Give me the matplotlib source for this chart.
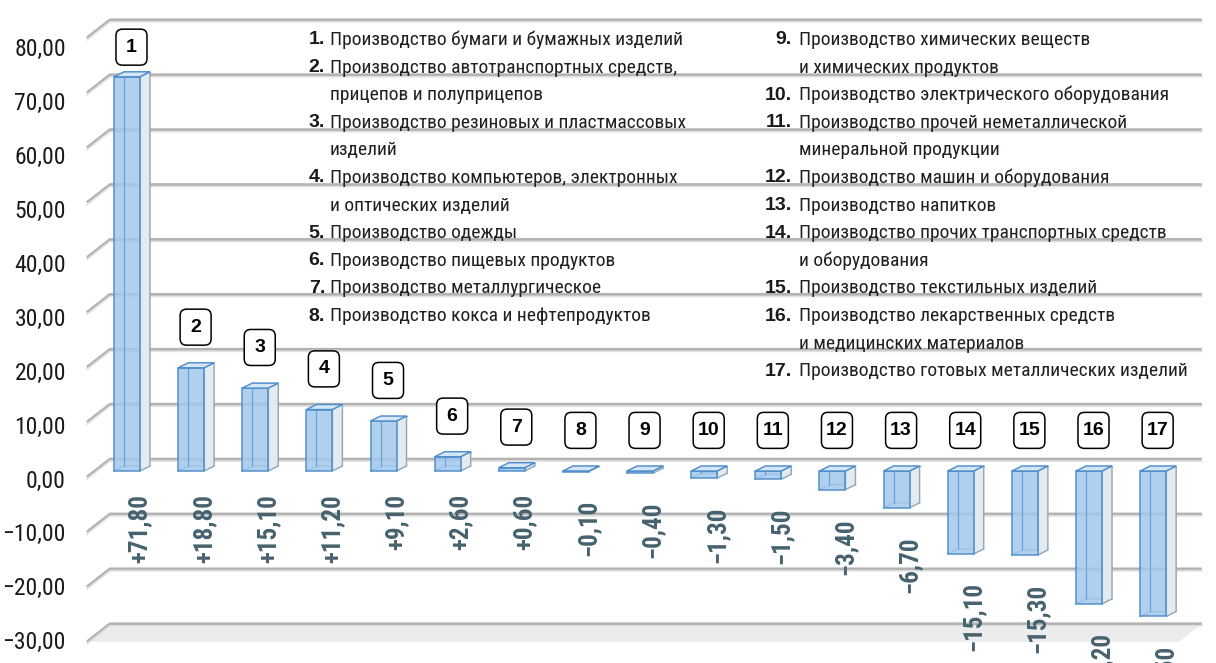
import matplotlib
matplotlib.use('Agg')
import matplotlib.pyplot as plt
from matplotlib import font_manager
from matplotlib.patches import Polygon, FancyBboxPatch

# Данные: изменение по видам производства
nums = list(range(1, 18))
values = [71.8, 18.8, 15.1, 11.2, 9.1, 2.6, 0.6, -0.1, -0.4, -1.3, -1.5,
          -3.4, -6.7, -15.1, -15.3, -24.2, -26.5]
names = [
    'Производство бумаги и бумажных изделий',
    'Производство автотранспортных средств,\nприцепов и полуприцепов',
    'Производство резиновых и пластмассовых\nизделий',
    'Производство компьютеров, электронных\nи оптических изделий',
    'Производство одежды',
    'Производство пищевых продуктов',
    'Производство металлургическое',
    'Производство кокса и нефтепродуктов',
    'Производство химических веществ\nи химических продуктов',
    'Производство электрического оборудования',
    'Производство прочей неметаллической\nминеральной продукции',
    'Производство машин и оборудования',
    'Производство напитков',
    'Производство прочих транспортных средств\nи оборудования',
    'Производство текстильных изделий',
    'Производство лекарственных средств\nи медицинских материалов',
    'Производство готовых металлических изделий',
]
yticks = [80, 70, 60, 50, 40, 30, 20, 10, 0, -10, -20, -30]

available = {f.name for f in font_manager.fontManager.ttflist}
fam = 'DejaVu Sans'
for cand in ['Liberation Sans Narrow', 'Roboto Condensed', 'Liberation Sans']:
    if cand in available:
        fam = cand
        break
plt.rcParams['font.family'] = [fam, 'DejaVu Sans']
wide = ['Liberation Sans', 'DejaVu Sans']

fig = plt.figure(figsize=(12.16, 6.63), dpi=100)
ax = fig.add_axes([0, 0, 1, 1])
ax.set_xlim(-1.98, 16.98)
ax.set_ylim(-34.97, 85.79)
ax.axis('off')

px_x = 1 / 64.125   # единиц x на пиксель
px_y = 1 / 5.49     # единиц y на пиксель

# задняя стенка: линии сетки
wall = 2.15
xl0, xl1, xr = -0.624, -0.265, 16.76
diag = 18 * px_y
floor = Polygon([(xl0, -30 + wall - diag), (xl1, -30 + wall), (xr, -30 + wall),
                 (xr - 0.36, -30 + wall - diag)], closed=True,
                fc='#ececec', ec='none', zorder=0)
ax.add_patch(floor)
for g in yticks:
    yb = g + wall
    ax.plot([xl0, xl1, xr], [yb - diag, yb, yb], color='#b3b3b3', lw=2.2,
            solid_capstyle='butt', zorder=1)
    ax.plot([xl0, xl1, xr], [yb - diag - 0.35, yb - 0.35, yb - 0.35],
            color='#e2e2e2', lw=1.2, zorder=1)
    ax.text((66 - 127) * px_x, 0.982 * g - 1.82, f'{g},00'.replace('-', '−'),
            ha='right', va='center', fontsize=17, color='#1a1a1a')

# столбики (псевдо-3D)
w = 26 * px_x
dx, dy = 10 * px_x, 5 * px_y
for i, v in enumerate(values):
    x0, x1 = i - w / 2, i + w / 2
    lo, hi = min(v, 0), max(v, 0)
    # задние рёбра
    ax.plot([x0 + dx, x0 + dx, x1 + dx], [lo + dy, hi + dy, hi + dy],
            color='#5b9bd5', lw=0.9, zorder=3)
    ax.plot([x0, x0 + dx, x1 + dx], [lo, lo + dy, lo + dy],
            color='#5b9bd5', lw=0.9, zorder=3)
    side = Polygon([(x1, lo), (x1 + dx, lo + dy), (x1 + dx, hi + dy), (x1, hi)],
                   closed=True, fc='#e3eaf0', ec='#8ea6b8', lw=1.0, zorder=4)
    ax.add_patch(side)
    front = Polygon([(x0, lo), (x1, lo), (x1, hi), (x0, hi)], closed=True,
                    fc='#a3c8ec', ec='#4a8bcb', lw=1.2, alpha=0.85, zorder=5)
    ax.add_patch(front)
    ax.plot([x0 + dx, x0 + dx], [lo + dy, hi + dy], color='#5b9bd5',
            lw=0.8, alpha=0.8, zorder=5)
    top = Polygon([(x0, hi), (x0 + dx, hi + dy), (x1 + dx, hi + dy), (x1, hi)],
                  closed=True, fc='#d6e6f5', ec='#4a8bcb', lw=1.0, zorder=5)
    ax.add_patch(top)

    # подпись значения
    lab = f'{v:+.2f}'.replace('.', ',').replace('-', '−')
    ty = lo - (4.2 if v >= 0 else 5.2)
    ax.text(i + 0.2, ty, lab, rotation=90, ha='center', va='top',
            fontsize=18, fontweight='heavy', color='#46626f', zorder=6)

    # номер в рамке
    by = min(hi + 7.4, 77.2)
    bw, bh = 31 * px_x, 36 * px_y
    box = FancyBboxPatch((i + 0.07 - bw / 2, by - bh / 2), bw, bh,
                         boxstyle='round,pad=0,rounding_size=0.1',
                         mutation_aspect=64.125 / 5.49,
                         fc='white', ec='black', lw=1.1, zorder=7)
    ax.add_patch(box)
    ax.text(i + 0.07, by, str(nums[i]), ha='center', va='center',
            fontsize=14, fontweight='bold', color='black', zorder=8,
            family=wide)

# расшифровка номеров
def line_y(k):
    return (471 - (40 + 27.6 * k)) * px_y

cols = [(range(0, 8), (325 - 127) * px_x, (330 - 127) * px_x),
        (range(8, 17), (792 - 127) * px_x, (799 - 127) * px_x)]
for idx, xn, xt in cols:
    k = 0
    for j in idx:
        ax.text(xn, line_y(k), f'{nums[j]}.', ha='right', va='center',
                fontsize=14, fontweight='bold', color='#1a1a1a', zorder=9,
                family=wide)
        for part in names[j].split('\n'):
            ax.text(xt, line_y(k), part, ha='left', va='center',
                    fontsize=14, color='#231f20', zorder=9)
            k += 1

plt.savefig('out.png', dpi=100)
